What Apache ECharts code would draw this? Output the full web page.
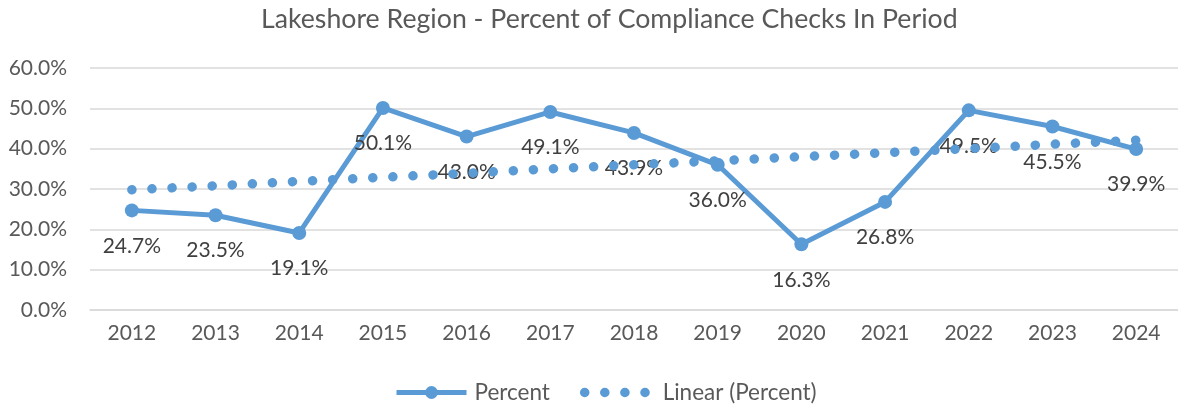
<!DOCTYPE html>
<html>
<head>
<meta charset="utf-8">
<script src="https://cdn.jsdelivr.net/npm/echarts@6/dist/echarts.min.js"></script>
<style>
  html, body { margin: 0; padding: 0; background: #fff; }
  #chart { width: 1178px; height: 406px; }
</style>
</head>
<body>
<div id="chart"></div>
<script>
const years = ['2012', '2013', '2014', '2015', '2016', '2017', '2018', '2019', '2020', '2021', '2022', '2023', '2024'];
const percent = [24.7, 23.5, 19.1, 50.1, 43.0, 49.1, 43.9, 36.0, 16.3, 26.8, 49.5, 45.5, 39.9];
// trend line (straight, ~29.8% -> ~42.1%)
const linear = [29.8, 30.8, 31.9, 32.9, 33.9, 35.0, 36.0, 37.0, 38.0, 39.0, 40.0, 41.1, 42.1];

const font = 'Lato, "Open Sans", sans-serif';
const blue = '#5B9BD5';
const dotted = { color: blue, width: 9.5, cap: 'round', type: [0.1, 20] };

const chart = echarts.init(document.getElementById('chart'));

const option = {
    animation: false,
    title: {
        text: 'Lakeshore Region - Percent of Compliance Checks In Period',
        left: 256,
        top: 1,
        textStyle: {
            fontFamily: font,
            fontSize: 26.7,
            fontWeight: 'normal',
            color: '#595959'
        }
    },
    legend: {
        bottom: -3,
        left: 389,
        itemWidth: 70,
        itemHeight: 16,
        itemGap: 30,
        textStyle: { fontFamily: font, fontSize: 22.5, color: '#595959', padding: [0, 0, 0, 3] },
        data: [
            { name: 'Percent', lineStyle: { width: 5 } },
            { name: 'Linear (Percent)', itemStyle: { opacity: 0 }, lineStyle: dotted }
        ]
    },
    grid: {
        left: 90,
        right: -4,
        top: 68,
        bottom: 96,
        containLabel: false
    },
    xAxis: {
        type: 'category',
        data: years,
        boundaryGap: true,
        axisLine: { show: true, lineStyle: { color: '#d9d9d9', width: 1.5 } },
        axisTick: { show: false },
        axisLabel: {
            margin: 13,
            fontFamily: font,
            fontSize: 21,
            color: '#595959'
        }
    },
    yAxis: {
        type: 'value',
        min: 0,
        max: 60,
        interval: 10,
        axisLine: { show: false },
        axisTick: { show: false },
        splitLine: { lineStyle: { color: '#d9d9d9', width: 1.5 } },
        axisLabel: {
            margin: 23,
            fontFamily: font,
            fontSize: 21,
            color: '#595959',
            formatter: function (v) { return v.toFixed(1) + '%'; }
        }
    },
    series: [
        {
            name: 'Percent',
            type: 'line',
            data: percent,
            symbol: 'circle',
            symbolSize: 14,
            lineStyle: { color: blue, width: 5 },
            itemStyle: { color: blue },
            label: {
                show: true,
                position: 'bottom',
                distance: 18,
                fontFamily: font,
                fontSize: 21,
                color: '#404040',
                formatter: function (p) { return p.value.toFixed(1) + '%'; }
            },
            z: 2
        },
        {
            name: 'Linear (Percent)',
            type: 'line',
            data: linear,
            symbol: 'none',
            lineStyle: dotted,
            itemStyle: { color: blue },
            z: 3
        }
    ]
};

option && chart.setOption(option);
</script>
</body>
</html>
